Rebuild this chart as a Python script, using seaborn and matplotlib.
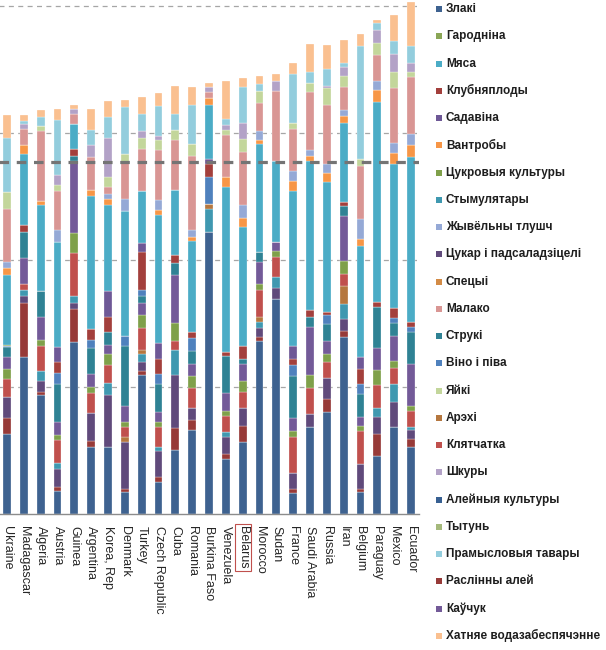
import numpy as np
import pandas as pd
import seaborn as sns
import matplotlib
matplotlib.use("Agg")
import matplotlib.pyplot as plt
from matplotlib.patches import Rectangle

# краіны (злева направа)
countries = ["Ukraine", "Madagascar", "Algeria", "Austria", "Guinea", "Argentina",
             "Korea, Rep", "Denmark", "Turkey", "Czech Republic", "Cuba", "Romania",
             "Burkina Faso", "Venezuela", "Belarus", "Morocco", "Sudan", "France",
             "Saudi Arabia", "Russia", "Iran", "Belgium", "Paraguay", "Mexico", "Ecuador"]

# парадак у легендзе
legend_order = ["Злакі", "Гародніна", "Мяса", "Клубняплоды", "Садавіна", "Вантробы",
                "Цукровыя культуры", "Стымулятары", "Жывёльны тлушч", "Цукар і падсаладзіцелі",
                "Спецыі", "Малако", "Струкі", "Віно і піва", "Яйкі", "Арэхі", "Клятчатка",
                "Шкуры", "Алейныя культуры", "Тытунь", "Прамысловыя тавары", "Раслінны алей",
                "Каўчук", "Хатняе водазабеспячэнне"]

# парадак у слупку (знізу ўверх)
stack_order = ["Злакі", "Алейныя культуры", "Раслінны алей", "Цукар і падсаладзіцелі",
               "Стымулятары", "Арэхі", "Клятчатка", "Цукровыя культуры", "Каўчук", "Струкі",
               "Віно і піва", "Клубняплоды", "Садавіна", "Гародніна", "Мяса", "Вантробы",
               "Спецыі", "Жывёльны тлушч", "Малако", "Яйкі", "Шкуры", "Тытунь",
               "Прамысловыя тавары", "Хатняе водазабеспячэнне"]

colors = {
    "Злакі": "#3E6290", "Алейныя культуры": "#376092", "Раслінны алей": "#973A38",
    "Цукар і падсаладзіцелі": "#604A7B", "Стымулятары": "#3F98B0", "Арэхі": "#B5773F",
    "Клятчатка": "#C0504D", "Цукровыя культуры": "#7FA04A", "Каўчук": "#735A98",
    "Струкі": "#2F8294", "Віно і піва": "#4F81BD", "Клубняплоды": "#A33F3C",
    "Садавіна": "#6E5896", "Гародніна": "#8AA656", "Мяса": "#4BACC6",
    "Вантробы": "#F79646", "Спецыі": "#D38B46", "Жывёльны тлушч": "#95A9D6",
    "Малако": "#D99694", "Яйкі": "#C3D69B", "Шкуры": "#B3A2C7", "Тытунь": "#A5B97C",
    "Прамысловыя тавары": "#93CDDD", "Хатняе водазабеспячэнне": "#FAC090",
}

# значэнні па краінах, у парадку stack_order
ukraine = [0.63, 0, 0.12, 0.17, 0, 0, 0.14, 0.08, 0.09, 0.08, 0.01, 0, 0, 0.01, 0.55, 0.05, 0, 0.05, 0.42, 0.13, 0, 0, 0.43, 0.18]
madagascar = [1.23, 0, 0.43, 0.05, 0.05, 0, 0.05, 0, 0.20, 0.21, 0, 0.05, 0, 0, 0.56, 0.07, 0, 0, 0.13, 0, 0.04, 0, 0.02, 0.05]
algeria = [0.93, 0, 0.03, 0.08, 0.08, 0, 0.20, 0.05, 0.18, 0.20, 0, 0, 0, 0, 0.68, 0.03, 0, 0, 0.55, 0.04, 0, 0, 0.07, 0.06]
austria = [0.18, 0, 0.03, 0.14, 0.05, 0, 0.18, 0.04, 0.10, 0.30, 0.09, 0.08, 0.12, 0, 0.83, 0, 0, 0.09, 0.31, 0.05, 0.08, 0, 0.43, 0.09]
guinea = [1.35, 0, 0.26, 0.05, 0.05, 0, 0.34, 0.16, 0.57, 0.04, 0, 0.05, 0, 0, 0.20, 0, 0, 0, 0.08, 0, 0.04, 0, 0, 0.03]
argentina = [0.52, 0, 0.05, 0.22, 0, 0, 0.16, 0.05, 0.10, 0.20, 0.07, 0.08, 0, 0, 1.05, 0.05, 0, 0, 0.26, 0, 0.09, 0, 0.12, 0.17]
korea = [0.52, 0, 0, 0.41, 0.10, 0, 0.14, 0.09, 0.07, 0.10, 0, 0.12, 0.20, 0, 0.68, 0.05, 0, 0.04, 0.05, 0.08, 0.31, 0, 0.16, 0.13]
denmark = [0.17, 0, 0.02, 0.37, 0, 0.04, 0.08, 0.04, 0.13, 0.47, 0.08, 0, 0, 0, 0.98, 0, 0, 0.10, 0.28, 0.07, 0, 0, 0.37, 0.06]
turkey = [1.09, 0, 0.03, 0.07, 0.07, 0.03, 0.17, 0.10, 0.10, 0.05, 0.05, 0.30, 0.07, 0, 0.41, 0, 0, 0, 0.33, 0.09, 0.05, 0, 0.14, 0.13]
czech = [0.25, 0, 0.04, 0.20, 0.03, 0, 0.16, 0.04, 0.08, 0.22, 0.08, 0.12, 0.12, 0, 1.01, 0.04, 0, 0.08, 0.39, 0.08, 0.03, 0, 0.24, 0.10]
cuba = [0.50, 0, 0.17, 0.42, 0.20, 0, 0.07, 0.14, 0.38, 0.09, 0, 0.07, 0, 0, 0.51, 0, 0, 0, 0.39, 0.08, 0, 0, 0.13, 0.22]
romania = [0.66, 0, 0.08, 0.09, 0, 0, 0.16, 0.09, 0.10, 0.10, 0.10, 0.05, 0, 0, 0.72, 0.03, 0, 0.05, 0.59, 0.09, 0, 0, 0.31, 0.14]
burkina = [2.22, 0, 0, 0, 0.18, 0.04, 0, 0, 0, 0, 0.21, 0.10, 0.04, 0, 0.43, 0.05, 0, 0, 0.05, 0, 0.04, 0, 0, 0.03]
venezuela = [0.43, 0, 0.04, 0.13, 0.04, 0, 0.13, 0.04, 0.14, 0.29, 0, 0.03, 0, 0, 1.30, 0.08, 0, 0, 0.33, 0.04, 0.04, 0, 0.05, 0.30]
belarus = [0.56, 0, 0.13, 0.14, 0, 0, 0.13, 0.08, 0.14, 0.04, 0, 0.10, 0, 0, 0.94, 0.07, 0, 0.10, 0.42, 0.10, 0.13, 0, 0.28, 0.07]
morocco = [1.36, 0, 0.03, 0.07, 0.05, 0.04, 0.21, 0.05, 0.17, 0.08, 0, 0, 0, 0, 0.85, 0.03, 0, 0.07, 0.22, 0.10, 0, 0, 0.05, 0.07]
sudan = [1.69, 0, 0, 0.09, 0.08, 0, 0.16, 0.05, 0.07, 0, 0, 0, 0, 0, 0.64, 0, 0, 0, 0.55, 0, 0.08, 0, 0, 0.05]
france = [0.16, 0, 0.03, 0.13, 0, 0, 0.28, 0.05, 0.10, 0.33, 0.09, 0.05, 0.10, 0, 1.22, 0.08, 0, 0.08, 0.33, 0.05, 0, 0, 0.38, 0.09]
saudi = [0.68, 0, 0, 0.10, 0, 0, 0.21, 0.10, 0.38, 0.08, 0, 0.05, 0, 0, 1.18, 0.04, 0, 0.04, 0.46, 0.07, 0, 0, 0.09, 0.22]
russia = [0.80, 0, 0.10, 0.17, 0, 0, 0.12, 0.07, 0.10, 0.13, 0.07, 0.03, 0, 0, 1.02, 0.07, 0, 0.07, 0.47, 0.13, 0.02, 0, 0.13, 0.19]
iran = [1.39, 0, 0.05, 0.09, 0.12, 0.14, 0.10, 0.10, 0.35, 0.08, 0, 0.03, 0, 0, 0.63, 0.05, 0, 0.05, 0.18, 0.09, 0.07, 0, 0.03, 0.18]
belgium = [0.17, 0, 0.02, 0.20, 0, 0, 0.26, 0.04, 0.07, 0.18, 0.08, 0.12, 0.09, 0, 0.88, 0.05, 0, 0.16, 0.42, 0.05, 0, 0, 0.89, 0.10]
paraguay = [0.45, 0, 0.18, 0.13, 0.07, 0, 0.18, 0.12, 0.17, 0.33, 0, 0.04, 0, 0, 1.57, 0.10, 0, 0.07, 0.20, 0.10, 0.10, 0, 0.05, 0.03]
mexico = [0.68, 0, 0, 0.20, 0.14, 0, 0.13, 0.05, 0.20, 0.10, 0.04, 0.08, 0, 0, 1.13, 0.09, 0, 0.08, 0.43, 0.13, 0.14, 0, 0.10, 0.21]
ecuador = [0.52, 0, 0.07, 0.07, 0.02, 0, 0.13, 0.04, 0.33, 0.25, 0.04, 0.04, 0, 0, 1.30, 0.09, 0, 0.09, 0.45, 0.04, 0.07, 0, 0.13, 0.35]

belarus_level = 2.77  # цёмная пункцірная лінія

rows = [ukraine, madagascar, algeria, austria, guinea, argentina, korea, denmark, turkey,
        czech, cuba, romania, burkina, venezuela, belarus, morocco, sudan, france, saudi,
        russia, iran, belgium, paraguay, mexico, ecuador]

records = []
for i, vals in enumerate(rows):
    for prod, v in zip(stack_order, vals):
        records.append({"pos": i, "product": prod, "value": v})
df = pd.DataFrame(records)

sns.set_style("white")
plt.rcParams["font.family"] = ["Liberation Sans", "DejaVu Sans"]

fig = plt.figure(figsize=(6.06, 6.5), dpi=100)
ax = fig.add_axes([-0.0023, 0.21, 0.6944, 0.789])

# лёгкая сетка пад слупкамі
for g in [1, 2, 3, 4]:
    ax.axhline(g, color="#A6A6A6", lw=0.9, dashes=(4, 3.5), zorder=0)

# seaborn кладзе першы ўзровень hue наверх, таму парадак адваротны
sns.histplot(data=df, x="pos", weights="value", hue="product",
             hue_order=stack_order[::-1], palette=colors, multiple="stack",
             discrete=True, shrink=0.47, alpha=1, edgecolor="white", linewidth=0.2,
             legend=False, ax=ax, zorder=2)

ax.axhline(belarus_level, color="#747474", lw=2.3, dashes=(3, 2.4), zorder=5)

ax.set_xlim(-0.5, len(countries) - 0.5)
ax.set_ylim(0, 4.04)
ax.set_xlabel("")
ax.set_ylabel("")
ax.set_yticks([])
for s in ["left", "right", "top"]:
    ax.spines[s].set_visible(False)
ax.spines["bottom"].set_color("#8C8C8C")
ax.spines["bottom"].set_linewidth(1)

ax.set_xticks(range(len(countries)))
ax.set_xticklabels(countries, rotation=-90, fontsize=9, color="#262626")
ax.tick_params(axis="x", which="major", length=0, pad=9)
ax.set_xticks(np.arange(-0.5, len(countries), 1), minor=True)
ax.tick_params(axis="x", which="minor", length=3, color="#8C8C8C", width=0.8)
for lab in ax.get_xticklabels():
    lab.set_va("top")
    if lab.get_text() == "Belarus":
        lab.set_bbox(dict(facecolor="none", edgecolor="#C0504D", lw=0.8, pad=1.5))

# легенда справа
W, H = 606, 650
for i, name in enumerate(legend_order):
    yc = 9 + 27.26 * i
    fig.add_artist(Rectangle((436 / W, 1 - (yc + 3) / H), 6 / W, 6 / H,
                             transform=fig.transFigure, facecolor=colors[name],
                             edgecolor="none"))
    fig.text(446 / W, 1 - yc / H, name, fontsize=8.5, fontweight="bold",
             color="#1E1E1E", va="center", ha="left")

fig.savefig("out.png", dpi=100)
